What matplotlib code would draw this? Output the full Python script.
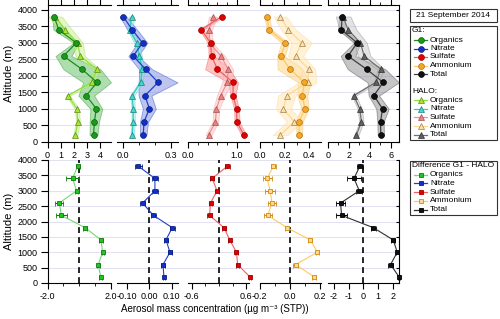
import numpy as np
import matplotlib.pyplot as plt
from matplotlib.patches import Rectangle
from matplotlib.lines import Line2D

plt.rcParams['font.family'] = ['Liberation Sans', 'DejaVu Sans']
plt.rcParams['axes.unicode_minus'] = False
plt.rcParams['font.size'] = 6.5

# ================================
# DATA
# ================================
alt = [3800, 3400, 3000, 2600, 2200, 1800, 1400, 1000, 600, 200]
species = ['Organics', 'Nitrate', 'Sulfate', 'Ammonium', 'Total']

# G1 mean and spread (ug m-3)
g1_org = [0.5, 0.85, 2.17, 1.21, 2.6, 3.75, 2.93, 3.69, 3.54, 3.48]
g1_nit = [0.004, 0.06, 0.124, 0.066, 0.143, 0.22, 0.139, 0.166, 0.133, 0.128]
g1_sul = [0.69, 0.27, 0.46, 0.48, 0.6, 0.92, 0.92, 0.99, 1.0, 1.14]
g1_amm = [0.059, 0.077, 0.205, 0.173, 0.245, 0.36, 0.344, 0.365, 0.317, 0.32]
g1_tot = [1.35, 1.28, 2.79, 1.92, 3.69, 5.29, 4.39, 5.22, 5.03, 5.06]

g1_org_sd = [0.15, 0.4, 0.2, 0.6, 1.4, 1.05, 0.6, 0.45, 0.35, 0.3]
g1_nit_sd = [0.02, 0.03, 0.03, 0.03, 0.04, 0.12, 0.04, 0.04, 0.025, 0.02]
g1_sul_sd = [0.04, 0.04, 0.05, 0.06, 0.25, 0.1, 0.05, 0.05, 0.05, 0.05]
g1_amm_sd = [0.02, 0.02, 0.03, 0.03, 0.1, 0.05, 0.04, 0.03, 0.03, 0.02]
g1_tot_sd = [0.3, 0.3, 0.3, 0.7, 1.8, 1.5, 0.5, 0.6, 0.3, 0.3]

# HALO mean and spread
halo_org = [0.58, 1.34, 2.27, 2.47, 3.74, 3.36, 1.54, 2.22, 2.3, 2.1]
halo_nit = [0.056, 0.046, 0.087, 0.104, 0.122, 0.112, 0.06, 0.066, 0.066, 0.06]
halo_sul = [0.51, 0.43, 0.44, 0.67, 0.82, 0.8, 0.67, 0.58, 0.56, 0.42]
halo_amm = [0.165, 0.232, 0.339, 0.29, 0.397, 0.387, 0.219, 0.192, 0.28, 0.165]
halo_tot = [1.44, 1.92, 3.11, 3.46, 5.06, 4.58, 2.47, 3.04, 3.2, 2.72]

halo_org_sd = [0.5, 0.5, 0.4, 0.35, 0.2, 0.2, 0.15, 0.15, 0.15, 0.15]
halo_nit_sd = [0.015, 0.015, 0.015, 0.015, 0.012, 0.012, 0.012, 0.01, 0.01, 0.01]
halo_sul_sd = [0.08, 0.06, 0.06, 0.08, 0.1, 0.1, 0.08, 0.06, 0.06, 0.06]
halo_amm_sd = [0.05, 0.06, 0.08, 0.06, 0.05, 0.07, 0.07, 0.06, 0.06, 0.06]
halo_tot_sd = [0.7, 0.8, 0.6, 0.6, 0.3, 0.2, 0.2, 0.2, 0.2, 0.2]

# difference G1 - HALO with uncertainty
diff_org = [-0.1, -0.42, -0.17, -1.26, -1.12, 0.36, 1.37, 1.47, 1.2, 1.35]
diff_nit = [-0.049, 0.025, 0.025, -0.03, 0.018, 0.102, 0.074, 0.092, 0.061, 0.065]
diff_sul = [0.185, -0.148, -0.044, -0.185, -0.207, 0.11, 0.237, 0.385, 0.41, 0.68]
diff_amm = [-0.108, -0.15, -0.13, -0.118, -0.146, -0.02, 0.134, 0.181, 0.037, 0.159]
diff_tot = [-0.23, -0.63, -0.27, -1.54, -1.47, 0.68, 2.03, 2.3, 1.85, 2.42]

err_org = [0.12, 0.4, 0.1, 0.25, 0.35, 0.1, 0.1, 0.06, 0.1, 0.08]
err_nit = [0.015, 0.012, 0.012, 0.01, 0.012, 0.012, 0.008, 0.008, 0.008, 0.006]
err_sul = [0.05, 0.05, 0.04, 0.04, 0.05, 0.04, 0.03, 0.03, 0.03, 0.03]
err_amm = [0.015, 0.03, 0.035, 0.025, 0.025, 0.012, 0.012, 0.012, 0.015, 0.015]
err_tot = [0.2, 0.5, 0.2, 0.3, 0.4, 0.15, 0.12, 0.1, 0.15, 0.1]

g1_mean = [g1_org, g1_nit, g1_sul, g1_amm, g1_tot]
g1_sd = [g1_org_sd, g1_nit_sd, g1_sul_sd, g1_amm_sd, g1_tot_sd]
halo_mean = [halo_org, halo_nit, halo_sul, halo_amm, halo_tot]
halo_sd = [halo_org_sd, halo_nit_sd, halo_sul_sd, halo_amm_sd, halo_tot_sd]
diff = [diff_org, diff_nit, diff_sul, diff_amm, diff_tot]
diff_err = [err_org, err_nit, err_sul, err_amm, err_tot]

# ================================
# STYLE
# ================================
# G1: line, marker face, marker edge, band fill, band edge
g1_style = [
    ('#1e8c1e', '#1a9a1a', '#0b5e0b', '#5cbf5c', '#2e9e2e'),
    ('#2040d0', '#1030c8', '#0a1f80', '#7d8ce0', '#3050d0'),
    ('#f06060', '#e00000', '#a00000', '#ff8c8c', '#f06060'),
    ('#ffc860', '#f5a623', '#b07010', '#ffd27a', '#f8c060'),
    ('#404040', '#101010', '#000000', '#8c8c8c', '#505050'),
]
halo_style = [
    ('#8fe03a', '#a6e62e', '#5f8a1a', '#c8f08c', '#9be055'),
    ('#30c8c0', '#40d8d0', '#207f7a', '#a0e8e8', '#50d0c8'),
    ('#f49090', '#f08080', '#a05050', '#ffc0c0', '#f8a0a0'),
    ('#ffd890', '#ffe0a0', '#a08050', '#ffe6b0', '#ffd890'),
    ('#707070', '#606060', '#303030', '#c8c8c8', '#909090'),
]
diff_style = [
    ('#6fdc6f', '#22c422', '#127a12'),
    ('#2040d0', '#1030c8', '#0a1f80'),
    ('#f06060', '#e00000', '#a00000'),
    ('#ffc860', '#ffd890', '#d08a10'),
    ('#303030', '#101010', '#000000'),
]

W, H = 500, 319
x_span = [(47.5, 111), (117, 178), (188, 249), (259.5, 321), (328, 399)]
top_xlim = [(0, 4.8), (-0.034, 0.343), (0, 1.245), (0, 0.494), (0, 6.8)]
bot_xlim = [(-1.97, 2.0), (-0.1436, 0.1276), (-0.68, 0.66), (-0.192, 0.2045), (-2.39, 2.42)]

top_major = [[0, 1, 2, 3, 4], [0, 0.3], [0, 1], [0, 0.2, 0.4], [0, 2, 4, 6]]
top_labels = [['0', '1', '2', '3', '4'], ['0.0', '0.3'], ['0.0', '1.0'],
              ['0.0', '0.2', '0.4'], ['0', '2', '4', '6']]
top_minor = [[], [0.1, 0.2], [0.2, 0.4, 0.6, 0.8], [0.1, 0.3], [1, 3, 5]]
bot_major = [[-2, 2], [-0.1, 0, 0.1], [-0.6, 0.6], [-0.2, 0, 0.2], [-2, -1, 0, 1, 2]]
bot_labels = [['-2.0', '2.0'], ['-0.10', '0.00', '0.10'], ['-0.6', '0.6'],
              ['-0.2', '0.0', '0.2'], ['-2', '-1', '0', '1', '2']]
bot_minor = [[-1, 0, 1], [], [-0.3, 0, 0.3], [-0.1, 0.1], []]

yticks = list(range(0, 4001, 500))


def px_axes(x0, x1, ytop, ybot):
    return fig.add_axes([x0 / W, 1 - ybot / H, (x1 - x0) / W, (ybot - ytop) / H])


fig = plt.figure(figsize=(W / 100, H / 100), dpi=100)

# ================================
# BACKGROUND AXES (y axis + grid)
# ================================
panels = [(5, 141.7, 4150), (160, 283, 4000)]
for ytop, ybot, ymax in panels:
    bg = px_axes(47.5, 399, ytop, ybot)
    bg.set_ylim(0, ymax)
    bg.set_xlim(0, 1)
    for s in ['top', 'bottom', 'right']:
        bg.spines[s].set_visible(False)
    bg.spines['left'].set_linewidth(0.8)
    bg.set_xticks([])
    bg.set_yticks(yticks)
    bg.tick_params(axis='y', direction='out', length=5, width=0.8, pad=2, labelsize=6.5)
    for y in yticks[1:]:
        bg.axhline(y, color='#dcdcf0', lw=0.6, zorder=0)
    bg.set_ylabel('Altitude (m)', fontsize=8, labelpad=3)

# ================================
# TOP: VERTICAL PROFILES
# ================================
for i in range(5):
    ax = px_axes(x_span[i][0], x_span[i][1], 5, 141.7)
    ax.patch.set_alpha(0)
    ax.set_xlim(top_xlim[i])
    ax.set_ylim(0, 4150)
    ax.spines['left'].set_visible(False)
    ax.spines['right'].set_visible(i == 4)
    for s in ax.spines.values():
        s.set_linewidth(0.8)

    gm, gs = np.array(g1_mean[i]), np.array(g1_sd[i])
    hm, hs = np.array(halo_mean[i]), np.array(halo_sd[i])
    gst, hst = g1_style[i], halo_style[i]

    ax.fill_betweenx(alt, gm - gs, gm + gs, facecolor=gst[3], alpha=0.5,
                     edgecolor=gst[4], lw=0.6)
    ax.fill_betweenx(alt, hm - hs, hm + hs, facecolor=hst[3], alpha=0.5,
                     edgecolor=hst[4], lw=0.6)
    ax.plot(hm, alt, color=hst[0], lw=0.9, marker='^', ms=4.2,
            mfc=hst[1], mec=hst[2], mew=0.5)
    ax.plot(gm, alt, color=gst[0], lw=0.9, marker='o', ms=4.2,
            mfc=gst[1], mec=gst[2], mew=0.5)

    ax.set_xticks(top_major[i], top_labels[i])
    ax.set_xticks(top_minor[i], minor=True)
    ax.xaxis.set_ticks_position('both')
    ax.tick_params(axis='x', which='major', direction='out', length=4, width=0.8,
                   pad=2.5, labelsize=6.5, top=True, labeltop=False)
    ax.tick_params(axis='x', which='minor', direction='out', length=2.5, width=0.6,
                   top=True)
    if i == 4:
        ax.yaxis.tick_right()
        ax.set_yticks(yticks)
        ax.tick_params(axis='y', direction='in', length=2.5, width=0.8, labelright=False)
    else:
        ax.set_yticks([])

# ================================
# BOTTOM: DIFFERENCE G1 - HALO
# ================================
for i in range(5):
    ax = px_axes(x_span[i][0], x_span[i][1], 160, 283)
    ax.patch.set_alpha(0)
    ax.set_xlim(bot_xlim[i])
    ax.set_ylim(0, 4000)
    ax.spines['left'].set_visible(False)
    ax.spines['top'].set_visible(False)
    ax.spines['right'].set_visible(i == 4)
    for s in ax.spines.values():
        s.set_linewidth(0.8)

    dst = diff_style[i]
    ax.axvline(0, color='black', ls=(0, (3.5, 2.5)), lw=1.2, zorder=1)
    ax.errorbar(diff[i], alt, xerr=diff_err[i], color=dst[0], lw=0.8,
                marker='s', ms=3.5, mfc=dst[1], mec=dst[2], mew=0.6,
                ecolor=dst[2], elinewidth=0.8, capsize=1.8, capthick=0.8,
                clip_on=False, zorder=3)

    ax.set_xticks(bot_major[i], bot_labels[i])
    ax.set_xticks(bot_minor[i], minor=True)
    ax.tick_params(axis='x', which='major', direction='out', length=4, width=0.8,
                   pad=2.5, labelsize=6.5)
    ax.tick_params(axis='x', which='minor', direction='out', length=2.5, width=0.6)
    if i == 4:
        ax.yaxis.tick_right()
        ax.set_yticks(yticks)
        ax.tick_params(axis='y', direction='in', length=2.5, width=0.8, labelright=False)
    else:
        ax.set_yticks([])

fig.text(215 / W, 1 - 309.5 / H, 'Aerosol mass concentration (µg m⁻³ (STP))',
         ha='center', va='center', fontsize=7)

# ================================
# LEGENDS
# ================================
ov = fig.add_axes([0, 0, 1, 1])
ov.set_xlim(0, W)
ov.set_ylim(H, 0)
ov.axis('off')

fs_leg = 6
box_x0, box_x1 = 410, 497
ov.add_patch(Rectangle((box_x0, 9), box_x1 - box_x0, 13, fill=False, lw=0.8, ec='#333333'))
ov.text((box_x0 + box_x1) / 2, 15.7, '21 September 2014', ha='center', va='center',
        fontsize=fs_leg)

ov.add_patch(Rectangle((box_x0, 26), box_x1 - box_x0, 114, fill=False, lw=0.8, ec='#333333'))
ov.text(box_x0 + 2, 30.7, 'G1:', ha='left', va='center', fontsize=fs_leg)
ov.text(box_x0 + 2, 91.3, 'HALO:', ha='left', va='center', fontsize=fs_leg)
g1_rows = [40, 48.5, 57, 65.5, 74]
halo_rows = [100, 108.7, 117.3, 126, 134.7]
for i in range(5):
    gst, hst = g1_style[i], halo_style[i]
    ov.add_line(Line2D([box_x0 + 4, box_x0 + 17], [g1_rows[i]] * 2, color=gst[0], lw=0.9))
    ov.add_line(Line2D([box_x0 + 10.5], [g1_rows[i]], marker='o', ms=4.2, mfc=gst[1],
                       mec=gst[2], mew=0.5, ls='none'))
    ov.text(box_x0 + 20, g1_rows[i], species[i], ha='left', va='center', fontsize=fs_leg)
    ov.add_line(Line2D([box_x0 + 4, box_x0 + 17], [halo_rows[i]] * 2, color=hst[0], lw=0.9))
    ov.add_line(Line2D([box_x0 + 10.5], [halo_rows[i]], marker='^', ms=4.2, mfc=hst[1],
                       mec=hst[2], mew=0.5, ls='none'))
    ov.text(box_x0 + 20, halo_rows[i], species[i], ha='left', va='center', fontsize=fs_leg)

ov.add_patch(Rectangle((box_x0, 161), box_x1 - box_x0, 54, fill=False, lw=0.8, ec='#333333'))
ov.text(box_x0 + 2, 165.9, 'Difference G1 - HALO', ha='left', va='center', fontsize=fs_leg)
diff_rows = [174.5, 183.3, 192, 200.8, 209.6]
for i in range(5):
    dst = diff_style[i]
    ov.add_line(Line2D([box_x0 + 4, box_x0 + 17], [diff_rows[i]] * 2, color=dst[0], lw=0.9))
    ov.add_line(Line2D([box_x0 + 10.5], [diff_rows[i]], marker='s', ms=3.5, mfc=dst[1],
                       mec=dst[2], mew=0.6, ls='none'))
    ov.text(box_x0 + 20, diff_rows[i], species[i], ha='left', va='center', fontsize=fs_leg)

fig.savefig('out.png', dpi=100)
